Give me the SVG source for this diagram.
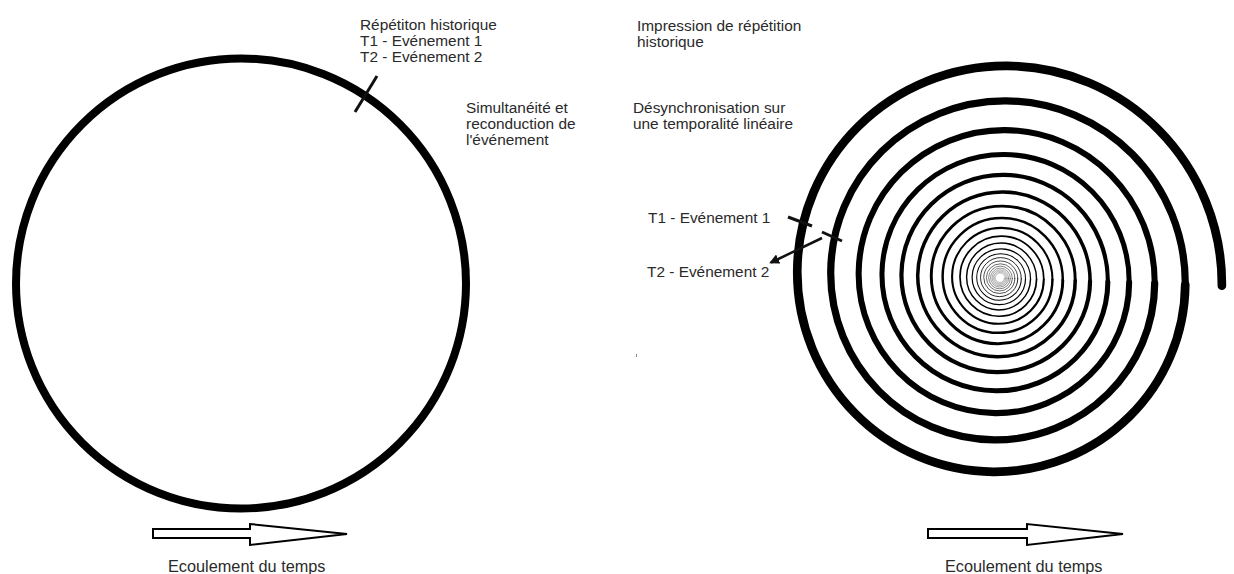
<svg xmlns="http://www.w3.org/2000/svg" xmlns:xlink="http://www.w3.org/1999/xlink" width="1234" height="574" viewBox="0 0 1234 574">
<style>
.t{font-family:"Liberation Sans",Arial,sans-serif;font-size:15.4px;fill:#2a2a2a}
.lbl{font-family:"Liberation Sans",Arial,sans-serif;font-size:16.3px;fill:#2a2a2a}
.tick{stroke:#111;stroke-width:3;fill:none}
.flow{fill:#fff;stroke:#000;stroke-width:2;stroke-linejoin:miter}
</style>
<defs>
<path id="turn" d="M100,0 A98.886,98.886 0 0 0 69.135,-69.135 A96.68,96.68 0 0 0 0,-95.592 A94.53,94.53 0 0 0 -66.087,-66.087 A92.42,92.42 0 0 0 -91.378,0 A90.36,90.36 0 0 0 -63.174,63.174 A88.35,88.35 0 0 0 0,87.35 A86.38,86.38 0 0 0 60.39,60.39 A84.45,84.45 0 0 0 83.5,0" fill="none" stroke="#000" stroke-width="3.9" stroke-linecap="round"/>
<marker id="ah" markerWidth="10" markerHeight="10" refX="8" refY="5" orient="auto" markerUnits="userSpaceOnUse">
<path d="M0,0 L10,5 L0,10 Z" fill="#111"/>
</marker>
</defs>

<g id="cycle">
<circle cx="241" cy="283.5" r="225" fill="none" stroke="#000" stroke-width="8"/>
<line class="tick" x1="377" y1="76" x2="355" y2="112"/>
</g>

<g id="cycle-text">
<text class="t" x="360" y="30">Répétiton historique</text>
<text class="t" x="360" y="46">T1 - Evénement 1</text>
<text class="t" x="360" y="62">T2 - Evénement 2</text>
</g>

<g id="simultaneite">
<text class="t" x="466" y="113">Simultanéité et</text>
<text class="t" x="466" y="129">reconduction de</text>
<text class="t" x="466" y="145">l'événement</text>
</g>

<g id="flow-left">
<polygon class="flow" points="153,529 250,529 250,524 347,534 250,545 250,538 153,538"/>
<text class="lbl" x="168" y="572">Ecoulement du temps</text>
</g>

<g id="spiral">
<g transform="translate(1000,278) rotate(2) scale(2.22)">
<use xlink:href="#turn"/>
<use xlink:href="#turn" transform="scale(0.835)"/>
<use xlink:href="#turn" transform="scale(0.697225)"/>
<use xlink:href="#turn" transform="scale(0.582183)"/>
<use xlink:href="#turn" transform="scale(0.486123)"/>
<use xlink:href="#turn" transform="scale(0.405913)"/>
<use xlink:href="#turn" transform="scale(0.338937)"/>
<use xlink:href="#turn" transform="scale(0.283012)"/>
<use xlink:href="#turn" transform="scale(0.236315)"/>
<use xlink:href="#turn" transform="scale(0.197323)"/>
<use xlink:href="#turn" transform="scale(0.164765)"/>
<use xlink:href="#turn" transform="scale(0.137579)"/>
<use xlink:href="#turn" transform="scale(0.114878)"/>
<use xlink:href="#turn" transform="scale(0.095923)"/>
<use xlink:href="#turn" transform="scale(0.080096)"/>
<use xlink:href="#turn" transform="scale(0.06688)"/>
<use xlink:href="#turn" transform="scale(0.055845)"/>
<use xlink:href="#turn" transform="scale(0.046631)"/>
<use xlink:href="#turn" transform="scale(0.038937)"/>
<use xlink:href="#turn" transform="scale(0.032512)"/>
<use xlink:href="#turn" transform="scale(0.027148)"/>
<use xlink:href="#turn" transform="scale(0.022669)"/>
</g>
<line class="tick" x1="788" y1="217" x2="812" y2="226"/>
<line class="tick" x1="822" y1="232" x2="842" y2="241"/>
</g>

<g id="spiral-text">
<text class="t" x="637" y="31">Impression de répétition</text>
<text class="t" x="637" y="47">historique</text>
<text class="t" x="633" y="113">Désynchronisation sur</text>
<text class="t" x="633" y="129">une temporalité linéaire</text>
</g>

<g id="t1-label"><text class="t" x="648" y="223">T1 - Evénement 1</text></g>
<g id="t2-label"><text class="t" x="647" y="277">T2 - Evénement 2</text></g>

<g id="connectors">
<line x1="822" y1="238" x2="771" y2="262.5" stroke="#111" stroke-width="2.5" marker-end="url(#ah)"/>
</g>

<g id="flow-right">
<polygon class="flow" points="928,529 1027,529 1027,524 1123,534 1027,545 1027,538 928,538"/>
<text class="lbl" x="945" y="572">Ecoulement du temps</text>
</g>

<rect x="636" y="354" width="1" height="3" fill="#888"/>
</svg>
